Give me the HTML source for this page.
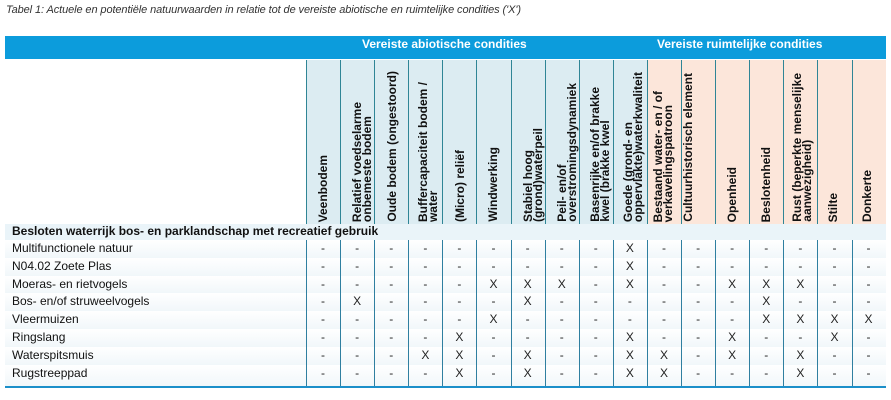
<!DOCTYPE html>
<html>
<head>
<meta charset="utf-8">
<style>
  html,body{margin:0;padding:0;background:#fff;}
  body{width:891px;height:400px;position:relative;overflow:hidden;font-family:"Liberation Sans",Arial,sans-serif;}
  .abs{position:absolute;}
  .title{left:6px;top:4px;font-size:11px;font-style:italic;color:#333;letter-spacing:-0.1px;white-space:nowrap;}
  .band{left:5px;top:36px;width:881px;height:23px;background:#0c9cdc;}
  .bt{top:38px;color:#fff;font-weight:bold;font-size:12px;line-height:12px;white-space:nowrap;}
  .hdr{left:306px;top:60px;height:164px;width:580px;display:flex;}
  .hc{flex:0 0 34.1px;width:34.1px;height:164px;box-sizing:border-box;border-left:1px solid #2f8596;position:relative;overflow:hidden;}
  .hc.b{background:#dcecf2;}
  .hc.p{background:#fce6da;}
  .t{position:absolute;bottom:2px;writing-mode:vertical-rl;transform:rotate(180deg);font-weight:bold;font-size:12px;line-height:10px;white-space:nowrap;color:#111;}
  .cat{left:5px;top:224px;width:881px;height:16px;background:#eaf4f9;}
  .catt{left:12px;top:223px;font-weight:bold;font-size:12px;line-height:16px;color:#111;white-space:nowrap;}
  .rowbg{left:5px;width:881px;height:17.8px;background:linear-gradient(to bottom,#ffffff,#f1f7fa);}
  .lbl{left:12px;font-size:12px;line-height:17.8px;color:#111;white-space:nowrap;}
  .lines{left:306px;top:240px;height:146px;width:580px;display:flex;}
  .lc{flex:0 0 34.1px;width:34.1px;height:146px;box-sizing:border-box;border-left:1px solid #2f7fa0;}
  .dr{left:306px;width:580px;height:17.8px;display:flex;font-size:12px;line-height:17.8px;color:#222;}
  .dr span{flex:0 0 34.1px;width:34.1px;text-align:center;}
  .bottom{left:5px;top:386px;width:881px;height:2px;background:#1b8fc9;}
</style>
</head>
<body>
<div class="abs title">Tabel 1: Actuele en potentiële natuurwaarden in relatie tot de vereiste abiotische en ruimtelijke condities ('X')</div>

<div class="abs band"></div>
<div class="abs bt" style="left:362px;">Vereiste abiotische condities</div>
<div class="abs bt" style="left:657px;">Vereiste ruimtelijke condities</div>

<div class="abs hdr">
  <div class="hc b"><div class="t" style="left:11px;">Veenbodem</div></div>
  <div class="hc b"><div class="t" style="left:11px;">Relatief voedselarme<br>onbemeste bodem</div></div>
  <div class="hc b"><div class="t" style="left:11.5px;">Oude bodem (ongestoord)</div></div>
  <div class="hc b"><div class="t" style="left:9px;">Buffercapaciteit bodem /<br>water</div></div>
  <div class="hc b"><div class="t" style="left:12px;">(Micro) reliëf</div></div>
  <div class="hc b"><div class="t" style="left:11px;">Windwerking</div></div>
  <div class="hc b"><div class="t" style="left:11.5px;">Stabiel hoog<br>(grond)waterpeil</div></div>
  <div class="hc b"><div class="t" style="left:11px;">Peil- en/of<br>overstromingsdynamiek</div></div>
  <div class="hc b"><div class="t" style="left:10px;">Basenrijke en/of brakke<br>kwel (brakke kwel</div></div>
  <div class="hc b"><div class="t" style="left:9.5px;">Goede (grond- en<br>oppervlakte)waterkwaliteit</div></div>
  <div class="hc p"><div class="t" style="left:5.5px;">Bestaand water- en / of<br>verkavelingspatroon</div></div>
  <div class="hc p"><div class="t" style="left:1px;">Cultuurhistorisch element</div></div>
  <div class="hc p"><div class="t" style="left:10.5px;">Openheid</div></div>
  <div class="hc p"><div class="t" style="left:10.5px;">Beslotenheid</div></div>
  <div class="hc p"><div class="t" style="left:7.5px;">Rust (beperkte menselijke<br>aanwezigheid)</div></div>
  <div class="hc p"><div class="t" style="left:9.5px;">Stilte</div></div>
  <div class="hc p"><div class="t" style="left:9.5px;">Donkerte</div></div>
</div>

<div class="abs cat"></div>
<div class="abs catt">Besloten waterrijk bos- en parklandschap met recreatief gebruik</div>

<div class="abs rowbg" style="top:240px;"></div>
<div class="abs rowbg" style="top:257.8px;"></div>
<div class="abs rowbg" style="top:275.6px;"></div>
<div class="abs rowbg" style="top:293.4px;"></div>
<div class="abs rowbg" style="top:311.2px;"></div>
<div class="abs rowbg" style="top:329px;"></div>
<div class="abs rowbg" style="top:346.8px;"></div>
<div class="abs rowbg" style="top:364.6px;height:21.4px;"></div>

<div class="abs lines">
  <div class="lc"></div><div class="lc"></div><div class="lc"></div><div class="lc"></div><div class="lc"></div><div class="lc"></div><div class="lc"></div><div class="lc"></div><div class="lc"></div><div class="lc"></div><div class="lc"></div><div class="lc"></div><div class="lc"></div><div class="lc"></div><div class="lc"></div><div class="lc"></div><div class="lc"></div>
</div>

<div class="abs lbl" style="top:240px;">Multifunctionele natuur</div>
<div class="abs lbl" style="top:257.8px;">N04.02 Zoete Plas</div>
<div class="abs lbl" style="top:275.6px;">Moeras- en rietvogels</div>
<div class="abs lbl" style="top:293.4px;">Bos- en/of struweelvogels</div>
<div class="abs lbl" style="top:311.2px;">Vleermuizen</div>
<div class="abs lbl" style="top:329px;">Ringslang</div>
<div class="abs lbl" style="top:346.8px;">Waterspitsmuis</div>
<div class="abs lbl" style="top:364.6px;">Rugstreeppad</div>

<div class="abs dr" style="top:240px;"><span>-</span><span>-</span><span>-</span><span>-</span><span>-</span><span>-</span><span>-</span><span>-</span><span>-</span><span>X</span><span>-</span><span>-</span><span>-</span><span>-</span><span>-</span><span>-</span><span>-</span></div>
<div class="abs dr" style="top:257.8px;"><span>-</span><span>-</span><span>-</span><span>-</span><span>-</span><span>-</span><span>-</span><span>-</span><span>-</span><span>X</span><span>-</span><span>-</span><span>-</span><span>-</span><span>-</span><span>-</span><span>-</span></div>
<div class="abs dr" style="top:275.6px;"><span>-</span><span>-</span><span>-</span><span>-</span><span>-</span><span>X</span><span>X</span><span>X</span><span>-</span><span>X</span><span>-</span><span>-</span><span>X</span><span>X</span><span>X</span><span>-</span><span>-</span></div>
<div class="abs dr" style="top:293.4px;"><span>-</span><span>X</span><span>-</span><span>-</span><span>-</span><span>-</span><span>X</span><span>-</span><span>-</span><span>-</span><span>-</span><span>-</span><span>-</span><span>X</span><span>-</span><span>-</span><span>-</span></div>
<div class="abs dr" style="top:311.2px;"><span>-</span><span>-</span><span>-</span><span>-</span><span>-</span><span>X</span><span>-</span><span>-</span><span>-</span><span>-</span><span>-</span><span>-</span><span>-</span><span>X</span><span>X</span><span>X</span><span>X</span></div>
<div class="abs dr" style="top:329px;"><span>-</span><span>-</span><span>-</span><span>-</span><span>X</span><span>-</span><span>-</span><span>-</span><span>-</span><span>X</span><span>-</span><span>-</span><span>X</span><span>-</span><span>-</span><span>X</span><span>-</span></div>
<div class="abs dr" style="top:346.8px;"><span>-</span><span>-</span><span>-</span><span>X</span><span>X</span><span>-</span><span>X</span><span>-</span><span>-</span><span>X</span><span>X</span><span>-</span><span>X</span><span>-</span><span>X</span><span>-</span><span>-</span></div>
<div class="abs dr" style="top:364.6px;"><span>-</span><span>-</span><span>-</span><span>-</span><span>X</span><span>-</span><span>X</span><span>-</span><span>-</span><span>X</span><span>X</span><span>-</span><span>-</span><span>-</span><span>X</span><span>-</span><span>-</span></div>

<div class="abs bottom"></div>
</body>
</html>
